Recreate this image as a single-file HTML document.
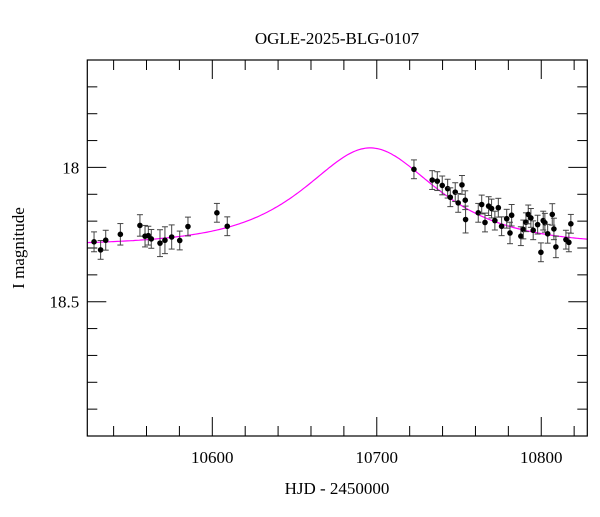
<!DOCTYPE html>
<html><head><meta charset="utf-8"><style>
body{margin:0;background:#fff;}
svg text{font-family:"Liberation Serif",serif;fill:#000;}
</style></head><body>
<svg id="chart" width="600" height="512" viewBox="0 0 600 512" xmlns="http://www.w3.org/2000/svg">
<rect x="0" y="0" width="600" height="512" fill="#fff"/>
<text x="337" y="44" font-size="17" text-anchor="middle">OGLE-2025-BLG-0107</text>
<text x="337" y="494" font-size="17" text-anchor="middle">HJD - 2450000</text>
<text transform="translate(24,248) rotate(-90)" font-size="17" text-anchor="middle">I magnitude</text>
<g id="ticks"></g><g id="model"></g><g id="points"></g>
<rect x="87.3" y="60" width="500" height="376" fill="none" stroke="#000" stroke-width="1.2"/>
</svg>
<script>
const hjd=[10528.1,10532.1,10535.2,10544.1,10556.0,10559.1,10561.1,10562.9,10568.2,10571.2,10575.3,10580.2,10585.2,10602.8,10609.1,
10722.6,10733.7,10736.8,10739.8,10743.1,10744.7,10747.7,10749.5,10751.8,10753.8,10754.0,10761.7,10763.8,10765.8,10768.0,10769.8,10771.8,10773.9,10775.9,10779.0,10781.0,10782.0,10787.6,10789.1,10790.7,10792.1,10793.7,10795.1,10797.8,10799.8,10801.2,10802.2,10803.9,10806.7,10807.7,10808.9,10815.0,10816.8,10818.0];
const mag=[18.277,18.307,18.271,18.249,18.216,18.256,18.254,18.266,18.282,18.271,18.259,18.272,18.220,18.169,18.219,
18.007,18.047,18.051,18.067,18.079,18.111,18.092,18.132,18.065,18.122,18.194,18.169,18.138,18.205,18.144,18.153,18.198,18.150,18.219,18.191,18.244,18.178,18.256,18.231,18.204,18.175,18.188,18.234,18.213,18.316,18.198,18.206,18.247,18.175,18.229,18.296,18.269,18.279,18.210];
const err=[0.037,0.035,0.037,0.04,0.04,0.04,0.035,0.035,0.05,0.05,0.045,0.035,0.035,0.035,0.035,
0.035,0.035,0.035,0.035,0.035,0.035,0.035,0.035,0.035,0.035,0.05,0.035,0.035,0.035,0.035,0.035,0.035,0.035,0.035,0.035,0.04,0.04,0.035,0.035,0.035,0.035,0.035,0.035,0.035,0.035,0.035,0.035,0.035,0.04,0.04,0.04,0.035,0.035,0.035];
const modelParams=[10696,0.93,50,18.29]; // t0, u0, tE, Ibase
const xTicks=[10600,10700,10800];
const yTicks=[18,18.5];
const NS="http://www.w3.org/2000/svg";
const X0=10524,X1=10828,Y0=17.6,Y1=19.0,L=87.3,R=587.3,T=60,B=436;
const sx=v=>L+(v-X0)/(X1-X0)*(R-L);
const sy=v=>T+(v-Y0)/(Y1-Y0)*(B-T);
function mk(tag,attrs,parent){const e=document.createElementNS(NS,tag);for(const k in attrs)e.setAttribute(k,attrs[k]);parent.appendChild(e);return e;}
const tg=document.getElementById('ticks');
for(let v=10540;v<=10820;v+=20){const maj=xTicks.includes(v);const len=maj?19:10;const x=sx(v);
 let t=mk('line',{x1:x,x2:x,y1:B,y2:B-len,stroke:'#000','stroke-width':1},tg);
 
 t=mk('line',{x1:x,x2:x,y1:T,y2:T+len,stroke:'#000','stroke-width':1},tg);
 }
xTicks.forEach(v=>{const t=mk('text',{x:sx(v),y:B+27,'font-size':17,'text-anchor':'middle'},tg);t.textContent=v;
 });
for(let i=1;i<14;i++){const v=Y0+i*0.1;const maj=yTicks.some(q=>Math.abs(q-v)<1e-6);const len=maj?19:10;const y=sy(v);
 let t=mk('line',{x1:L,x2:L+len,y1:y,y2:y,stroke:'#000','stroke-width':1},tg);
 
 t=mk('line',{x1:R,x2:R-len,y1:y,y2:y,stroke:'#000','stroke-width':1},tg);
 }
yTicks.forEach(v=>{const t=mk('text',{x:L-8,y:sy(v)+6,'font-size':17,'text-anchor':'end'},tg);t.textContent=v;
 });
// model
const [t0,u0,tE,Ib]=modelParams;let d='';
for(let px=L;px<=R;px+=2){const t=X0+(px-L)/(R-L)*(X1-X0);const tau=(t-t0)/tE;const u=Math.sqrt(u0*u0+tau*tau);
 const A=(u*u+2)/(u*Math.sqrt(u*u+4));const m=Ib-2.5*Math.log10(A);d+=(d?'L':'M')+px.toFixed(1)+','+sy(m).toFixed(1);}
const ml=mk('path',{d:d,fill:'none',stroke:'#ff00ff','stroke-width':1.2},document.getElementById('model'));

const pg=document.getElementById('points');
hjd.forEach((t,i)=>{const x=sx(t),y=sy(mag[i]),y1=sy(mag[i]-err[i]),y2=sy(mag[i]+err[i]);
 const g=mk('g',{},pg);
 mk('line',{x1:x,x2:x,y1:y1,y2:y2,stroke:'#444','stroke-width':1},g);
 mk('line',{x1:x-3,x2:x+3,y1:y1,y2:y1,stroke:'#444','stroke-width':1},g);
 mk('line',{x1:x-3,x2:x+3,y1:y2,y2:y2,stroke:'#444','stroke-width':1},g);
 mk('circle',{cx:x,cy:y,r:2.8,fill:'#000'},g);});
</script>
</body></html>
